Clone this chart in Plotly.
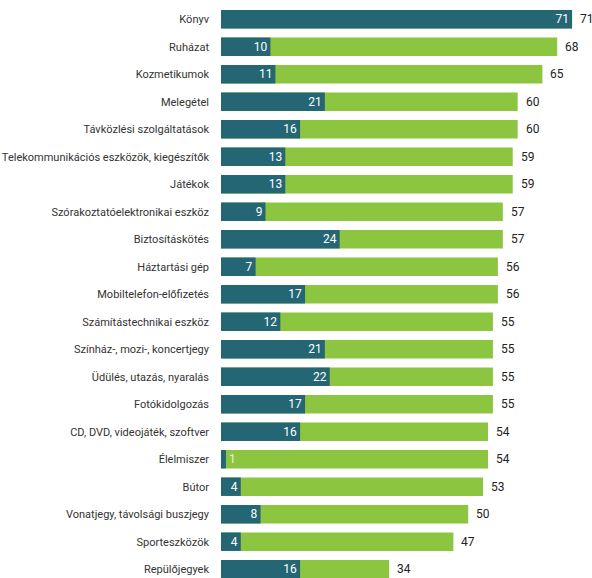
import plotly.graph_objects as go

categories = [
    "Könyv", "Ruházat", "Kozmetikumok", "Melegétel", "Távközlési szolgáltatások",
    "Telekommunikációs eszközök, kiegészítők", "Játékok", "Szórakoztatóelektronikai eszköz",
    "Biztosításkötés", "Háztartási gép", "Mobiltelefon-előfizetés", "Számítástechnikai eszköz",
    "Színház-, mozi-, koncertjegy", "Üdülés, utazás, nyaralás", "Fotókidolgozás",
    "CD, DVD, videojáték, szoftver", "Élelmiszer", "Bútor", "Vonatjegy, távolsági buszjegy",
    "Sporteszközök", "Repülőjegyek",
]
total_values = [71, 68, 65, 60, 60, 59, 59, 57, 57, 56, 56, 55, 55, 55, 55, 54, 54, 53, 50, 47, 34]
part_values = [71, 10, 11, 21, 16, 13, 13, 9, 24, 7, 17, 12, 21, 22, 17, 16, 1, 4, 8, 4, 16]

GREEN = "#8cc640"
TEAL = "#256675"
FONT = "Roboto, Liberation Sans, sans-serif"

rows = list(range(len(categories)))

fig = go.Figure()
fig.add_trace(go.Bar(
    y=rows, x=total_values, orientation="h",
    marker=dict(color=GREEN, line=dict(width=0)),
    hoverinfo="x+y",
))
fig.add_trace(go.Bar(
    y=rows, x=part_values, orientation="h",
    marker=dict(color=TEAL, line=dict(width=0)),
    text=[str(v) for v in part_values],
    textposition="auto",
    textangle=0,
    insidetextanchor="end",
    insidetextfont=dict(color="#ffffff", size=12, family=FONT),
    outsidetextfont=dict(color="#e6f3d6", size=12, family=FONT),
    constraintext="none",
    cliponaxis=False,
))

# totals written just past the end of each green bar
for r, v in zip(rows, total_values):
    fig.add_annotation(
        x=v, y=r, text=str(v), showarrow=False,
        xanchor="left", yanchor="middle", xshift=6,
        font=dict(color="#222222", size=12, family=FONT),
    )

fig.update_layout(
    width=592, height=578,
    margin=dict(l=221, r=15, t=0, b=0, pad=0),
    barmode="overlay",
    bargap=0.33,
    showlegend=False,
    plot_bgcolor="white",
    paper_bgcolor="white",
    font=dict(family=FONT, size=12, color="#333333"),
    xaxis=dict(range=[0, 72], visible=False, fixedrange=True),
    yaxis=dict(
        range=[20.32, -0.70],
        tickvals=rows, ticktext=categories,
        showgrid=False, zeroline=False, showline=False,
        ticks="", ticklabelstandoff=11,
        tickfont=dict(family=FONT, size=11, color="#333333"),
        automargin=False,
    ),
)

fig.write_html("out.html")
